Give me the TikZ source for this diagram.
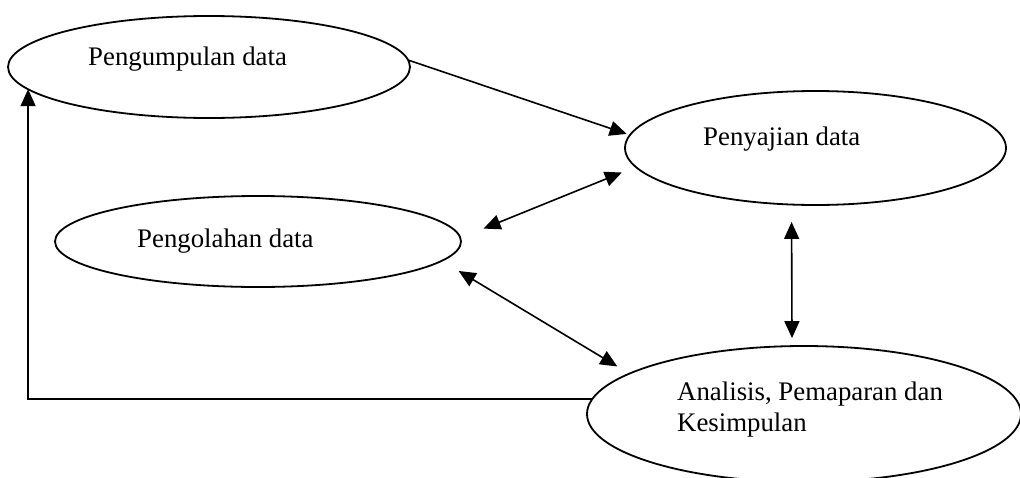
\documentclass[tikz,border=0pt]{standalone}
\usepackage{fontspec}
\setmainfont{Liberation Serif}
\usetikzlibrary{arrows.meta,shapes.geometric}
\begin{document}
\begin{tikzpicture}[x=1pt,y=-1pt,
  proc/.style={draw,ellipse,line width=1.8pt,inner sep=0pt,outer sep=0pt},
  lbl/.style={inner sep=0pt,font=\fontsize{26.8}{31}\selectfont,align=left},
  conn/.style={line width=1.6pt,-{Triangle[length=17pt,width=15pt]}},
  dconn/.style={line width=1.6pt,{Triangle[length=17pt,width=15pt]}-{Triangle[length=17pt,width=15pt]}}]
\useasboundingbox (0,0) rectangle (1020,477);
\node[proc,minimum width=402pt,minimum height=102pt] (e1) at (209,67) {};
\node[proc,minimum width=381pt,minimum height=114pt] (e2) at (815.5,148) {};
\node[proc,minimum width=406pt,minimum height=91pt] (e3) at (258,241.5) {};
\node[proc,minimum width=434pt,minimum height=136pt] (e4) at (804,414) {};
\node[lbl,anchor=base west] (t1) at (88,65) {Pengumpulan data};
\node[lbl,anchor=base west] (t2) at (703,145) {Penyajian data};
\node[lbl,anchor=base west] (t3) at (137,247) {Pengolahan data};
\node[lbl,anchor=north west] (t4) at (677,382) {Analisis, Pemaparan dan\\Kesimpulan};
\draw[conn,shorten >=3.5pt] (e1.2.3) -- (e2.176.7);
\draw[dconn,shorten <=25pt,shorten >=15pt] (e3.1.6) -- (e2.186.75);
\draw[dconn,shorten <=19.7pt,shorten >=14pt] (e3.354.1) -- (e4.167.9);
\draw[dconn,shorten <=17.4pt,shorten >=8pt] (e2.247.5) -- (e4.100);
\draw[conn] (e4.176.8) -| (e1.187.4);
\end{tikzpicture}
\end{document}
